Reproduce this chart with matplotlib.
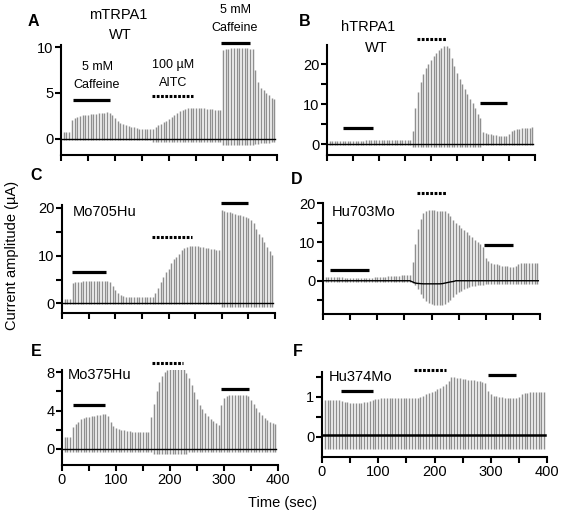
import numpy as np
import matplotlib
matplotlib.use("Agg")
import matplotlib.pyplot as plt
from matplotlib.ticker import MultipleLocator, FixedLocator

plt.rcParams['font.family'] = ['Liberation Sans', 'DejaVu Sans']

W, H = 562, 519

# sweep times (sec)
times = np.arange(5, 400, 5)

# ---------------- data (µA) ----------------
A_up = [0.7,0.7,0.7,2.0,2.2,2.4,2.5,2.55,2.6,2.6,
        2.65,2.7,2.7,2.75,2.8,2.85,2.9,2.85,2.6,2.3,
        1.95,1.7,1.55,1.45,1.35,1.3,1.25,1.2,1.1,1.05,
        1.0,1.0,1.05,1.1,1.25,1.45,1.6,1.8,1.95,2.15,
        2.35,2.55,2.8,3.0,3.15,3.25,3.3,3.3,3.35,3.35,
        3.3,3.3,3.3,3.25,3.2,3.2,3.15,3.1,3.1,9.7,
        9.8,9.85,9.9,9.9,9.9,9.9,9.9,9.9,9.9,9.85,
        9.8,7.5,6.2,5.5,5.3,5.0,4.8,4.5,4.3]
A_lo = [-0.15]*33 + [-0.4]*26 + [-0.75]*12 + [-0.6,-0.55,-0.5,-0.5,-0.45,-0.45,-0.4,-0.4]

B_up = [0.8]*10 + [0.8,0.8,0.8,0.85,0.9,0.9,0.95,1.0,1.0,1.0,
        1.0,1.05,1.05,1.1,1.1,1.1,1.1,1.1,1.1,1.1,
        1.1,1.1,3.2,9.0,13.0,15.5,17.5,19.0,20.0,21.0,
        22.0,22.8,23.5,24.0,24.5,24.6,24.0,21.5,19.5,17.8,
        16.3,15.0,13.8,12.5,11.3,10.2,9.0,7.6,6.5,3.0,
        2.7,2.5,2.4,2.3,2.2,2.1,2.1,2.1,2.1,2.6,
        3.3,3.6,3.7,3.8,3.9,4.0,4.1,4.1,4.2]
B_lo = [-0.2]*32 + [-0.8]*27 + [-0.3]*20

C_up = [0.85,0.85,0.85,4.2,4.4,4.5,4.55,4.6,4.65,4.7,
        4.7,4.7,4.75,4.75,4.75,4.75,4.7,4.5,3.7,2.9,
        2.2,1.8,1.55,1.4,1.35,1.3,1.25,1.25,1.25,1.25,
        1.25,1.25,1.25,1.3,2.1,3.3,4.5,5.6,6.5,7.3,
        8.4,9.2,9.7,10.4,11.1,11.5,11.8,11.9,12.0,12.0,
        11.9,11.8,11.7,11.6,11.5,11.4,11.3,11.2,11.1,19.5,
        19.3,19.2,19.0,18.8,18.7,18.5,18.4,18.3,18.1,17.9,
        17.5,16.8,15.5,14.5,13.8,12.8,11.8,10.9,10.1]
C_lo = [-0.15]*59 + [-0.75]*20

D_up = [1.0,1.0,0.95,0.9,0.9,0.85,0.85,0.8,0.8,0.75,
        0.7,0.7,0.7,0.7,0.7,0.7,0.75,0.8,0.85,0.9,
        0.95,1.0,1.05,1.1,1.15,1.2,1.25,1.3,1.4,1.45,
        1.5,1.55,4.9,9.5,13.5,16.0,17.5,18.0,18.2,18.2,
        18.2,18.1,18.0,18.0,18.0,17.5,16.8,15.8,15.0,14.3,
        13.7,13.1,12.6,11.9,11.2,10.6,10.1,9.6,8.6,6.0,
        5.2,4.7,4.4,4.2,4.0,3.9,3.8,3.7,3.65,3.6,
        3.8,4.4,4.6,4.7,4.7,4.7,4.7,4.7,4.7]
D_lo = ([-0.2]*32 +
        [-0.5,-1.0,-2.2,-3.5,-4.5,-5.2,-5.7,-6.0,-6.2,-6.3,
         -6.3,-6.3,-6.1,-5.6,-4.9,-4.2,-3.5,-3.0,-2.6,-2.2,
         -1.9,-1.6,-1.4,-1.3,-1.2,-1.1,-1.0] + [-0.9]*20)
D_base = ([0.0]*32 +
          [-0.3,-0.6,-0.7,-0.75,-0.8,-0.8,-0.8,-0.8,-0.8,-0.8,-0.8,-0.75,-0.6,-0.45,-0.3,-0.2]
          + [0.0]*31)

E_up = [1.3,1.3,1.3,2.3,2.6,2.8,3.1,3.2,3.3,3.35,
        3.4,3.45,3.5,3.55,3.6,3.65,3.4,2.8,2.4,2.2,
        2.1,2.0,1.95,1.9,1.85,1.8,1.8,1.8,1.8,1.8,
        1.8,1.8,3.3,4.7,6.1,7.0,7.6,8.0,8.2,8.3,
        8.3,8.3,8.3,8.3,8.3,7.9,7.4,6.7,5.9,5.2,
        4.6,4.2,3.8,3.4,3.1,2.9,2.7,2.5,4.6,5.3,
        5.5,5.6,5.6,5.6,5.6,5.6,5.6,5.6,5.5,5.1,
        4.7,4.3,3.9,3.5,3.2,3.0,2.8,2.7,2.6]
E_lo = [-0.35]*33 + [-0.5]*13 + [-0.35]*33

F_up = [0.93,0.93,0.93,0.93,0.92,0.91,0.89,0.87,0.86,0.85,
        0.85,0.85,0.85,0.85,0.86,0.87,0.9,0.93,0.95,0.95,
        0.96,0.96,0.96,0.97,0.97,0.97,0.97,0.97,0.96,0.96,
        0.96,0.96,0.97,0.98,1.0,1.03,1.06,1.09,1.12,1.15,
        1.19,1.23,1.27,1.32,1.4,1.5,1.49,1.47,1.46,1.45,
        1.44,1.43,1.42,1.41,1.4,1.39,1.37,1.34,1.15,1.07,
        1.03,1.01,1.0,0.99,0.98,0.97,0.96,0.96,0.96,1.0,
        1.06,1.09,1.1,1.11,1.11,1.12,1.12,1.12,1.12]
F_lo = [-0.32]*79

# stimulus bars: (start, end, level, dashed)
A_bars = [(22, 91, 4.2, False), (168, 244, 4.65, True), (297, 350, 10.5, False)]
B_bars = [(31, 88, 4.0, False), (173, 229, 26.2, True), (294, 346, 10.25, False)]
C_bars = [(19, 83, 6.6, False), (169, 244, 13.8, True), (298, 350, 20.9, False)]
D_bars = [(13, 84, 2.9, False), (173, 226, 22.8, True), (297, 350, 9.2, False)]
E_bars = [(20, 80, 4.6, False), (167, 224, 9.0, True), (294, 346, 6.3, False)]
F_bars = [(33, 90, 1.15, False), (164, 221, 1.67, True), (295, 344, 1.54, False)]

panels = [
    # letter, up, lo, base, bars, axes px (x0,x1,ytop,ybot), ylim, majors, minors, bottom labels
    ("A", A_up, A_lo, None, A_bars, (61, 277, 45, 155), (-1.81, 10.27), [0, 5, 10], [], False),
    ("B", B_up, B_lo, None, B_bars, (327, 535, 45, 155), (-2.75, 24.75), [0, 10, 20], [5, 15], False),
    ("C", C_up, C_lo, None, C_bars, (62, 275, 205, 313), (-1.99, 20.56), [0, 10, 20], [5, 15], False),
    ("D", D_up, D_lo, D_base, D_bars, (323, 540, 203, 314), (-8.6, 20.1), [0, 10, 20], [-5, 5, 15], False),
    ("E", E_up, E_lo, None, E_bars, (62, 278, 370, 465), (-1.67, 8.24), [0, 4, 8], [2, 6], True),
    ("F", F_up, F_lo, None, F_bars, (322, 547, 372, 457), (-0.51, 1.62), [0, 1], [0.5, 1.5], True),
]

fig = plt.figure(figsize=(W/100, H/100), dpi=100)

def fx(x):
    return x / W

def fy(y):
    return 1 - y / H

axes = {}
for (letter, up, lo, base, bars, (x0, x1, yt, yb), ylim, majors, minors, blab) in panels:
    ax = fig.add_axes([fx(x0), fy(yb), (x1 - x0)/W, (yb - yt)/H])
    axes[letter] = ax
    ax.vlines(times, lo, up, color='#8f8f8f', lw=1.05)
    if base is None:
        lw0 = 1.8 if letter == "F" else 1.0
        yb0 = 0.05 if letter == "F" else 0.0
        ax.plot([2, 397], [yb0, yb0], color='black', lw=lw0)
    else:
        ax.plot(np.concatenate([[2], times, [397]]), np.concatenate([[0], base, [0]]),
                color='black', lw=1.0)
    for (s, e, lvl, dashed) in bars:
        if dashed:
            ax.plot([s, e], [lvl, lvl], color='black', lw=2.2,
                    linestyle=(0, (0.9, 0.5)), clip_on=False, solid_capstyle='butt')
        else:
            ax.plot([s, e], [lvl, lvl], color='black', lw=2.3, clip_on=False,
                    solid_capstyle='butt')
    ax.set_xlim(0, 400)
    ax.set_ylim(*ylim)
    for sp in ['top', 'right']:
        ax.spines[sp].set_visible(False)
    for sp in ['left', 'bottom']:
        ax.spines[sp].set_linewidth(1.5)
    ax.xaxis.set_major_locator(MultipleLocator(100))
    ax.xaxis.set_minor_locator(MultipleLocator(50))
    ax.yaxis.set_major_locator(FixedLocator(majors))
    ax.yaxis.set_minor_locator(FixedLocator(minors))
    ax.tick_params(which='both', direction='out', length=4, width=1.5, labelsize=10.5,
                   colors='black', pad=1.5)
    if not blab:
        ax.set_xticklabels([])
    ax.set_facecolor('none')

# panel letters
for letter, (px, py) in {"A": (33, 22), "B": (305, 22), "C": (36, 175),
                         "D": (297, 179), "E": (36, 351), "F": (298, 351)}.items():
    fig.text(fx(px), fy(py), letter, fontsize=11.5, fontweight='bold', ha='center', va='center')

# construct names
fig.text(fx(118), fy(15), "mTRPA1", fontsize=10.5, ha='center', va='center')
fig.text(fx(120), fy(35), "WT", fontsize=10.5, ha='center', va='center')
fig.text(fx(368), fy(27), "hTRPA1", fontsize=10.5, ha='center', va='center')
fig.text(fx(376), fy(48), "WT", fontsize=10.5, ha='center', va='center')
fig.text(fx(73), fy(212), "Mo705Hu", fontsize=10.5, ha='left', va='center')
fig.text(fx(332), fy(212), "Hu703Mo", fontsize=10.5, ha='left', va='center')
fig.text(fx(68), fy(375), "Mo375Hu", fontsize=10.5, ha='left', va='center')
fig.text(fx(329), fy(377), "Hu374Mo", fontsize=10.5, ha='left', va='center')

# stimulus labels in A
fig.text(fx(97), fy(67), "5 mM", fontsize=9, ha='center', va='center')
fig.text(fx(97), fy(85), "Caffeine", fontsize=9, ha='center', va='center')
fig.text(fx(173), fy(65), "100 µM", fontsize=9, ha='center', va='center')
fig.text(fx(173), fy(83), "AITC", fontsize=9, ha='center', va='center')
fig.text(fx(235), fy(10), "5 mM", fontsize=9, ha='center', va='center')
fig.text(fx(235), fy(28), "Caffeine", fontsize=9, ha='center', va='center')

# axis labels
fig.text(fx(283), fy(503), "Time (sec)", fontsize=10.5, ha='center', va='center')
fig.text(fx(12), fy(255), "Current amplitude (µA)", fontsize=10.5, ha='center',
         va='center', rotation=90)

fig.savefig("out.png", dpi=100)
